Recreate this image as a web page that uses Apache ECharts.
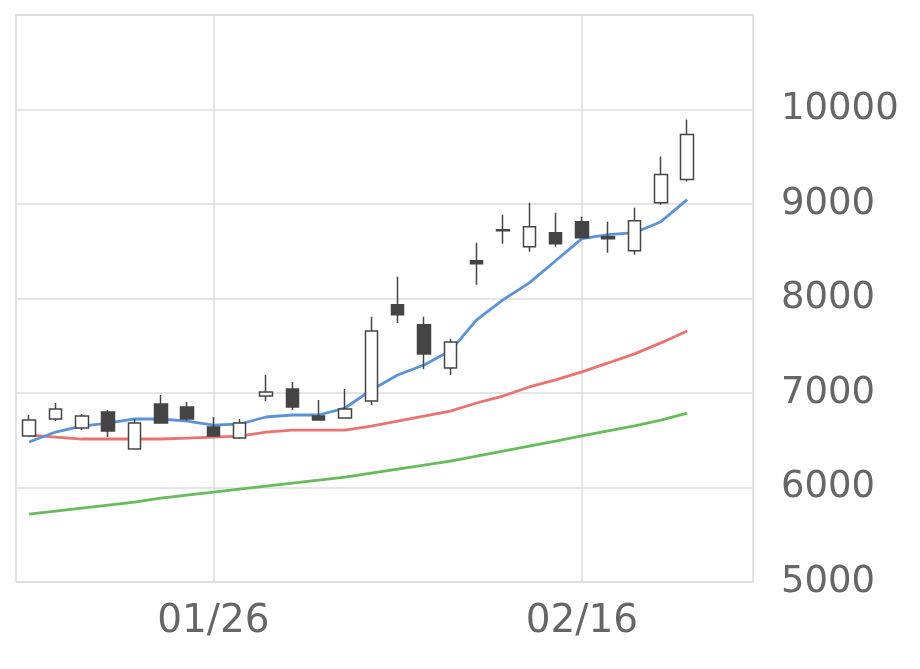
<!DOCTYPE html>
<html>
<head>
<meta charset="utf-8">
<script src="https://cdn.jsdelivr.net/npm/echarts@6/dist/echarts.min.js"></script>
<style>html,body{margin:0;padding:0;background:#fff}#chart{width:920px;height:669px}</style>
</head>
<body>
<div id="chart"></div>
<script>
var dates = ['01/15','01/16','01/19','01/20','01/21','01/22','01/23','01/26','01/27','01/28','01/29','01/30',
  '02/02','02/03','02/04','02/05','02/06','02/09','02/10','02/12','02/13','02/16','02/17','02/18','02/19','02/20','02/24','02/25'];
// [open, close, low, high]
var candles = [
  [6544,6714,6544,6767],[6724,6830,6703,6894],[6629,6756,6608,6778],[6799,6597,6534,6820],
  [6407,6682,6407,6725],[6884,6682,6682,6979],[6852,6725,6703,6905],[6640,6544,6544,6746],
  [6523,6682,6512,6725],[6968,7010,6915,7191],[7042,6852,6820,7117],[6756,6714,6714,6926],
  [6735,6830,6735,7042],[6915,7657,6873,7806],[7933,7827,7742,8230],[7721,7414,7254,7806],
  [7265,7541,7191,7573],[8400,8368,8145,8590],[8728,8718,8580,8887],[8548,8760,8495,9014],
  [8696,8580,8548,8908],[8813,8643,8643,8866],[8654,8633,8484,8813],[8505,8823,8463,8961],
  [9014,9311,8993,9502],[9258,9735,9237,9894]
];
var maShort = [6481,6587,6650,6682,6725,6725,6703,6661,6672,6746,6767,6767,6841,7032,7191,7297,7446,7774,7986,8166,8399,8633,8675,8696,8813,9046];
var maMid = [6555,6534,6513,6513,6513,6513,6523,6534,6544,6587,6608,6608,6608,6650,6703,6756,6809,6894,6968,7064,7138,7223,7318,7414,7530,7657];
var maLong = [5718,5750,5782,5814,5845,5888,5920,5951,5983,6015,6047,6079,6110,6153,6195,6237,6280,6333,6386,6439,6492,6545,6598,6651,6714,6788];
var shownLabels = ['01/26','02/16'];

var chart = echarts.init(document.getElementById('chart'));
var lineStyle = function (c) {
  return {type:'line', showSymbol:false, smooth:false, lineStyle:{width:2.8, color:c}, itemStyle:{color:c}};
};
chart.setOption({
  animation: false,
  grid: {left:16, right:167, top:15, bottom:87, show:true, borderColor:'#dcdcdc', borderWidth:1.5},
  xAxis: {
    type:'category', data:dates, boundaryGap:true,
    axisLine:{show:false}, axisTick:{show:false},
    axisLabel:{interval:function(i,v){return shownLabels.indexOf(v)>=0;}, fontSize:39, color:'#666', margin:20, fontFamily:'DejaVu Sans'},
    splitLine:{show:false}
  },
  yAxis: {
    type:'value', position:'right', min:5000, max:11000, interval:1000,
    axisLine:{show:false}, axisTick:{show:false},
    axisLabel:{fontSize:37, color:'#666', margin:28, fontFamily:'DejaVu Sans',
      formatter:function(v){return v===11000?'':v;}},
    splitLine:{lineStyle:{color:'#dcdcdc', width:1.5}}
  },
  series: [
    {type:'candlestick', data:candles, barWidth:13, z:3,
      itemStyle:{color:'#fff', color0:'#444', borderColor:'#444', borderColor0:'#444', borderWidth:1.5},
      markLine:{silent:true, symbol:'none', label:{show:false}, z:1,
        lineStyle:{color:'#dcdcdc', width:1.5, type:'solid'},
        data: shownLabels.map(function(d){return {xAxis:d};})}},
    Object.assign(lineStyle('#66bb5a'), {data:maLong}),
    Object.assign(lineStyle('#ec7272'), {data:maMid}),
    Object.assign(lineStyle('#5b93d9'), {data:maShort})
  ]
});
</script>
</body>
</html>
